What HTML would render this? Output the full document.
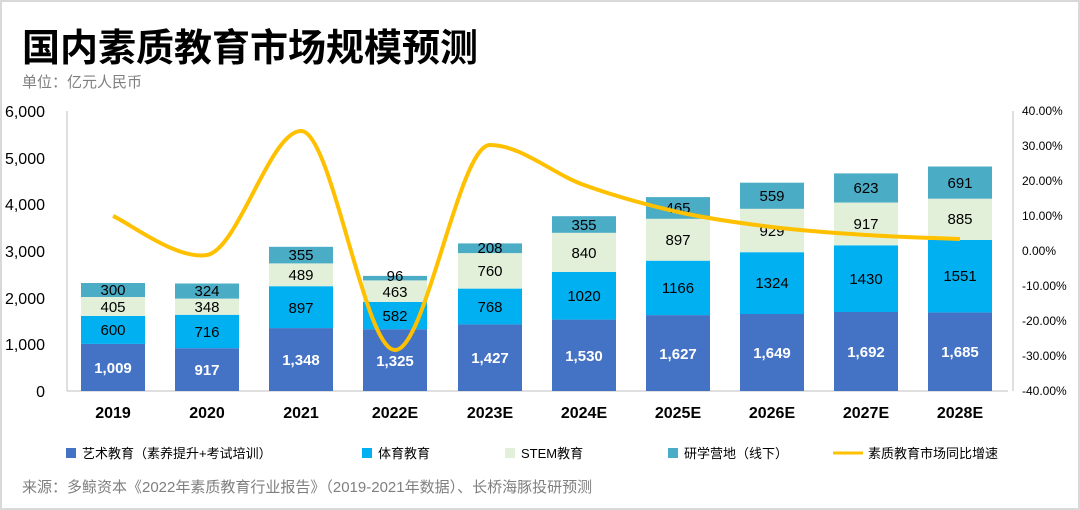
<!DOCTYPE html>
<html><head><meta charset="utf-8"><style>
body{margin:0;background:#fff}
svg{display:block;font-family:"Liberation Sans","Noto Sans CJK SC",sans-serif}
</style></head><body>
<svg width="1080" height="510" viewBox="0 0 1080 510" xmlns="http://www.w3.org/2000/svg">
<rect x="1" y="1" width="1078" height="508" fill="#fff" stroke="#d9d9d9" stroke-width="2"/>
<text x="22" y="61" font-size="38" font-weight="bold" fill="#000">国内素质教育市场规模预测</text>
<text x="22" y="87" font-size="15" fill="#7f7f7f">单位：亿元人民币</text>
<g font-size="16" fill="#000" text-anchor="end">
<text x="45" y="117">6,000</text><text x="45" y="164">5,000</text><text x="45" y="210">4,000</text>
<text x="45" y="257">3,000</text><text x="45" y="304">2,000</text><text x="45" y="350">1,000</text><text x="45" y="397">0</text>
</g>
<line x1="67" y1="111" x2="67" y2="391" stroke="#bfbfbf"/>
<line x1="67" y1="391" x2="1008" y2="391" stroke="#bfbfbf"/>
<line x1="1013" y1="111" x2="1013" y2="391" stroke="#bfbfbf"/>
<g font-size="12" fill="#000">
<text x="1022" y="115">40.00%</text><text x="1022" y="150">30.00%</text><text x="1022" y="185">20.00%</text>
<text x="1022" y="220">10.00%</text><text x="1022" y="255">0.00%</text><text x="1022" y="290">-10.00%</text>
<text x="1022" y="325">-20.00%</text><text x="1022" y="360">-30.00%</text><text x="1022" y="395">-40.00%</text>
</g>
<g>
<rect x="81" y="343.9" width="64" height="47.1" fill="#4472C4"/><rect x="81" y="315.9" width="64" height="28" fill="#00B0F0"/><rect x="81" y="297" width="64" height="18.9" fill="#E2F0D9"/><rect x="81" y="283" width="64" height="14" fill="#4BACC6"/>
<rect x="175" y="348.2" width="64" height="42.8" fill="#4472C4"/><rect x="175" y="314.8" width="64" height="33.4" fill="#00B0F0"/><rect x="175" y="298.6" width="64" height="16.2" fill="#E2F0D9"/><rect x="175" y="283.5" width="64" height="15.1" fill="#4BACC6"/>
<rect x="269" y="328.1" width="64" height="62.9" fill="#4472C4"/><rect x="269" y="286.2" width="64" height="41.9" fill="#00B0F0"/><rect x="269" y="263.4" width="64" height="22.8" fill="#E2F0D9"/><rect x="269" y="246.8" width="64" height="16.6" fill="#4BACC6"/>
<rect x="363" y="329.2" width="64" height="61.8" fill="#4472C4"/><rect x="363" y="302" width="64" height="27.2" fill="#00B0F0"/><rect x="363" y="280.4" width="64" height="21.6" fill="#E2F0D9"/><rect x="363" y="275.9" width="64" height="4.5" fill="#4BACC6"/>
<rect x="458" y="324.4" width="64" height="66.6" fill="#4472C4"/><rect x="458" y="288.6" width="64" height="35.8" fill="#00B0F0"/><rect x="458" y="253.1" width="64" height="35.5" fill="#E2F0D9"/><rect x="458" y="243.4" width="64" height="9.7" fill="#4BACC6"/>
<rect x="552" y="319.6" width="64" height="71.4" fill="#4472C4"/><rect x="552" y="272" width="64" height="47.6" fill="#00B0F0"/><rect x="552" y="232.8" width="64" height="39.2" fill="#E2F0D9"/><rect x="552" y="216.2" width="64" height="16.6" fill="#4BACC6"/>
<rect x="646" y="315.1" width="64" height="75.9" fill="#4472C4"/><rect x="646" y="260.7" width="64" height="54.4" fill="#00B0F0"/><rect x="646" y="218.8" width="64" height="41.9" fill="#E2F0D9"/><rect x="646" y="197.1" width="64" height="21.7" fill="#4BACC6"/>
<rect x="740" y="314" width="64" height="77" fill="#4472C4"/><rect x="740" y="252.2" width="64" height="61.8" fill="#00B0F0"/><rect x="740" y="208.8" width="64" height="43.4" fill="#E2F0D9"/><rect x="740" y="182.7" width="64" height="26.1" fill="#4BACC6"/>
<rect x="834" y="312" width="64" height="79" fill="#4472C4"/><rect x="834" y="245.3" width="64" height="66.7" fill="#00B0F0"/><rect x="834" y="202.5" width="64" height="42.8" fill="#E2F0D9"/><rect x="834" y="173.4" width="64" height="29.1" fill="#4BACC6"/>
<rect x="928" y="312.4" width="64" height="78.6" fill="#4472C4"/><rect x="928" y="240" width="64" height="72.4" fill="#00B0F0"/><rect x="928" y="198.7" width="64" height="41.3" fill="#E2F0D9"/><rect x="928" y="166.5" width="64" height="32.2" fill="#4BACC6"/>
</g>
<g font-size="15" text-anchor="middle" fill="#fff" font-weight="bold">
<text x="113" y="373">1,009</text><text x="207" y="375">917</text><text x="301" y="365">1,348</text><text x="395" y="366">1,325</text><text x="490" y="363">1,427</text>
<text x="584" y="361">1,530</text><text x="678" y="359">1,627</text><text x="772" y="358">1,649</text><text x="866" y="357">1,692</text><text x="960" y="357">1,685</text>
</g>
<g font-size="15" text-anchor="middle" fill="#000">
<text x="113" y="335">600</text><text x="113" y="312">405</text><text x="113" y="295">300</text>
<text x="207" y="337">716</text><text x="207" y="312">348</text><text x="207" y="296">324</text>
<text x="301" y="313">897</text><text x="301" y="280">489</text><text x="301" y="260">355</text>
<text x="395" y="321">582</text><text x="395" y="297">463</text><text x="395" y="281">96</text>
<text x="490" y="312">768</text><text x="490" y="276">760</text><text x="490" y="253">208</text>
<text x="584" y="301">1020</text><text x="584" y="258">840</text><text x="584" y="230">355</text>
<text x="678" y="293">1166</text><text x="678" y="245">897</text><text x="678" y="213">465</text>
<text x="772" y="288">1324</text><text x="772" y="236">929</text><text x="772" y="201">559</text>
<text x="866" y="284">1430</text><text x="866" y="229">917</text><text x="866" y="193">623</text>
<text x="960" y="281">1551</text><text x="960" y="224">885</text><text x="960" y="188">691</text>
</g>
<path d="M113,216 C128.7,222.5 176,260 207,255 C238,250 270,131 301,131 C332,131 364,350 395,350 C426,350 459,145 490,145 C521,145 552.7,173.8 584,185 C615.3,196.2 646.7,205 678,212 C709.3,219 740.7,223.2 772,227 C803.3,230.8 834.7,233 866,235 C897.3,237 944.3,238.3 960,239" fill="none" stroke="#FFC000" stroke-width="4"/>
<g font-size="16" text-anchor="middle" fill="#000" font-weight="bold">
<text x="113" y="418">2019</text><text x="207" y="418">2020</text><text x="301" y="418">2021</text><text x="395" y="418">2022E</text><text x="490" y="418">2023E</text>
<text x="584" y="418">2024E</text><text x="678" y="418">2025E</text><text x="772" y="418">2026E</text><text x="866" y="418">2027E</text><text x="960" y="418">2028E</text>
</g>
<g font-size="13" fill="#000">
<rect x="66" y="448" width="10" height="10" fill="#4472C4"/><text x="82" y="458">艺术教育（素养提升+考试培训）</text>
<rect x="362" y="448" width="10" height="10" fill="#00B0F0"/><text x="378" y="458">体育教育</text>
<rect x="505" y="448" width="10" height="10" fill="#E2F0D9"/><text x="521" y="458">STEM教育</text>
<rect x="668" y="448" width="10" height="10" fill="#4BACC6"/><text x="684" y="458">研学营地（线下）</text>
<line x1="833" y1="453" x2="863" y2="453" stroke="#FFC000" stroke-width="3"/><text x="868" y="458">素质教育市场同比增速</text>
</g>
<text x="22" y="492" font-size="15" fill="#7f7f7f">来源：多鲸资本《2022年素质教育行业报告》（2019-2021年数据）、长桥海豚投研预测</text>
</svg>
</body></html>
